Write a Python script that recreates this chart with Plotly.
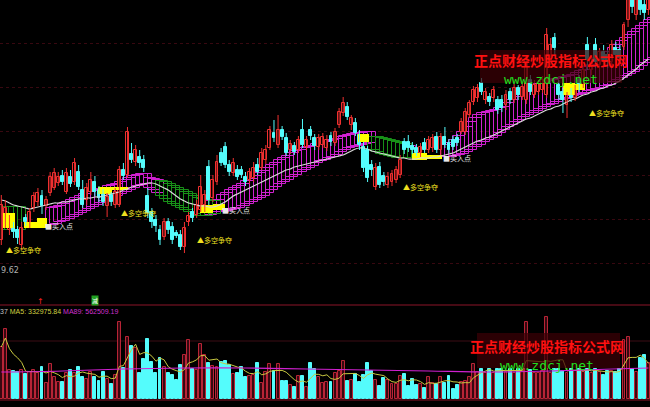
import plotly.graph_objects as go
import pandas as pd

# ---------------- data ----------------
opens = [9.85,10.03,9.95,9.99,9.95,9.80,10.07,10.00,10.17,10.23,
         10.29,10.19,10.32,10.37,10.42,10.49,10.33,10.48,10.43,10.53,
         10.35,10.25,10.33,10.43,10.35,10.32,10.19,10.30,10.20,10.20,
         10.55,10.50,10.71,10.63,10.68,10.65,10.29,10.13,10.05,9.95,
         9.88,10.03,9.98,9.92,9.90,9.78,10.03,10.13,10.10,10.15,
         10.20,10.58,10.27,10.43,10.72,10.78,10.60,10.52,10.55,10.55,
         10.48,10.45,10.47,10.60,10.57,10.65,10.77,10.92,10.80,10.95,
         10.87,10.75,10.79,10.75,10.95,10.78,10.95,10.87,10.78,10.80,
         10.77,10.89,10.82,11.00,11.12,11.18,11.00,11.02,10.90,10.78,
         10.75,10.60,10.38,10.58,10.49,10.40,10.43,10.45,10.50,10.83,
         10.83,10.79,10.77,10.72,10.82,10.75,10.77,10.88,10.75,10.88,
         10.82,10.85,10.87,10.93,10.93,11.10,11.23,11.27,11.42,11.25,
         11.28,11.27,11.25,11.25,11.20,11.33,11.25,11.37,11.28,11.25,
         11.45,11.30,11.33,11.35,11.30,11.65,11.87,11.40,11.33,11.20,
         11.33,11.27,11.45,11.40,11.80,11.55,11.80,11.60,11.73,11.70,
         11.63,11.77,11.75,11.78,12.05,12.30,12.10,12.30,12.20,12.15]
closes = [10.20,10.17,10.03,9.93,9.87,9.97,10.03,10.13,10.29,10.32,
          10.19,10.25,10.48,10.52,10.48,10.43,10.52,10.41,10.62,10.38,
          10.20,10.37,10.45,10.33,10.27,10.23,10.28,10.23,10.33,10.55,
          10.49,10.93,10.65,10.75,10.62,10.57,10.12,10.03,9.99,9.85,
          10.03,9.95,9.85,9.89,9.78,9.97,10.09,10.07,10.20,10.38,
          10.30,10.25,10.45,10.63,10.62,10.60,10.53,10.62,10.48,10.50,
          10.43,10.53,10.57,10.53,10.72,10.75,10.95,10.87,10.95,10.88,
          10.72,10.81,10.73,10.85,10.80,10.85,10.89,10.79,10.87,10.88,
          10.85,10.83,10.93,11.13,11.22,11.08,11.07,10.92,10.80,10.57,
          10.47,10.55,10.57,10.40,10.43,10.48,10.51,10.55,10.65,10.75,
          10.77,10.75,10.72,10.78,10.75,10.85,10.87,10.75,10.88,10.80,
          10.75,10.78,10.82,11.03,11.13,11.22,11.35,11.37,11.33,11.33,
          11.23,11.35,11.15,11.17,11.30,11.25,11.37,11.30,11.38,11.65,
          11.33,11.40,11.41,11.45,11.90,11.80,11.77,11.30,11.25,11.30,
          11.27,11.37,11.37,11.55,11.65,11.67,11.63,11.73,11.65,11.63,
          11.80,11.70,11.67,12.00,12.35,12.18,12.25,12.15,12.12,12.28]
highs = [10.30,10.25,10.10,10.03,9.99,10.03,10.11,10.17,10.33,10.37,
         10.35,10.29,10.53,10.57,10.53,10.55,10.57,10.55,10.67,10.60,
         10.45,10.42,10.53,10.49,10.39,10.36,10.32,10.33,10.37,10.59,
         10.62,10.98,10.82,10.80,10.75,10.70,10.37,10.17,10.10,10.00,
         10.07,10.07,10.03,9.95,9.95,10.03,10.13,10.17,10.25,10.50,
         10.35,10.65,10.50,10.70,10.77,10.83,10.65,10.67,10.60,10.59,
         10.53,10.57,10.63,10.67,10.77,10.80,10.99,11.05,11.10,10.99,
         10.92,10.85,10.83,10.89,11.06,10.89,10.99,10.91,10.91,10.92,
         10.90,10.93,10.97,11.17,11.28,11.23,11.10,11.07,10.95,10.83,
         10.79,10.65,10.62,10.63,10.53,10.53,10.55,10.59,10.70,10.87,
         10.90,10.83,10.81,10.82,10.87,10.89,10.91,10.93,10.92,10.98,
         10.86,10.89,10.91,11.07,11.17,11.25,11.39,11.41,11.47,11.37,
         11.32,11.39,11.29,11.30,11.35,11.37,11.41,11.40,11.42,11.70,
         11.50,11.45,11.45,11.49,11.97,11.87,11.92,11.45,11.37,11.33,
         11.37,11.40,11.50,11.60,11.88,11.70,11.87,11.77,11.80,11.75,
         11.85,11.83,11.80,12.03,12.45,12.40,12.35,12.40,12.30,12.35]
lows = [9.80,9.97,9.90,9.87,9.81,9.75,9.99,9.97,10.13,10.19,
        10.11,10.15,10.29,10.35,10.39,10.40,10.31,10.38,10.40,10.35,
        10.17,10.20,10.30,10.29,10.23,10.19,10.08,10.19,10.17,10.18,
        10.45,10.47,10.62,10.59,10.57,10.53,10.07,9.97,9.93,9.80,
        9.85,9.91,9.81,9.87,9.75,9.72,9.99,10.03,10.07,10.13,
        10.13,10.20,10.23,10.40,10.59,10.57,10.49,10.49,10.45,10.47,
        10.39,10.41,10.43,10.50,10.55,10.61,10.75,10.83,10.77,10.85,
        10.69,10.71,10.70,10.72,10.77,10.75,10.85,10.75,10.75,10.77,
        10.74,10.79,10.79,10.97,11.09,11.05,10.95,10.89,10.75,10.53,
        10.43,10.49,10.35,10.37,10.39,10.37,10.39,10.42,10.47,10.71,
        10.73,10.71,10.69,10.68,10.72,10.72,10.73,10.72,10.70,10.77,
        10.72,10.75,10.79,10.91,10.90,11.07,11.20,11.23,11.30,11.21,
        11.19,11.23,11.11,11.13,11.15,11.21,11.22,11.25,11.25,11.21,
        11.30,11.27,11.30,11.32,11.27,11.60,11.70,11.25,11.12,11.07,
        11.23,11.24,11.33,11.37,11.55,11.50,11.57,11.55,11.60,11.57,
        11.59,11.65,11.63,11.75,11.98,12.12,12.05,12.10,12.05,12.10]
volumes = [988000,1330000,551000,532000,513000,551000,475000,513000,551000,494000,
           608000,304000,665000,418000,323000,323000,494000,551000,494000,608000,
           418000,380000,513000,418000,342000,513000,380000,285000,456000,1463000,
           589000,1178000,1007000,969000,494000,760000,1140000,703000,494000,779000,
           608000,494000,456000,361000,646000,836000,1121000,570000,551000,1045000,
           836000,684000,627000,608000,703000,722000,646000,475000,494000,608000,
           418000,437000,456000,684000,304000,513000,665000,532000,665000,342000,
           342000,266000,228000,437000,437000,228000,684000,570000,418000,304000,
           323000,323000,494000,532000,722000,342000,361000,475000,323000,456000,
           684000,532000,361000,247000,399000,361000,285000,285000,437000,475000,
           247000,380000,266000,285000,209000,418000,304000,285000,418000,304000,
           437000,190000,266000,323000,342000,418000,665000,513000,570000,494000,
           570000,494000,570000,570000,513000,570000,494000,570000,551000,1463000,
           551000,494000,494000,532000,1558000,494000,570000,570000,532000,494000,
           570000,532000,570000,513000,570000,494000,570000,513000,456000,532000,
           532000,513000,570000,1121000,1178000,570000,513000,779000,836000,684000]
ma_slow = [10.25,10.24,10.22,10.20,10.19,10.18,10.17,10.16,10.17,10.18,
           10.19,10.20,10.21,10.22,10.22,10.23,10.23,10.24,10.25,10.26,
           10.26,10.27,10.27,10.28,10.28,10.29,10.30,10.31,10.32,10.33,
           10.35,10.36,10.38,10.39,10.40,10.41,10.42,10.42,10.41,10.39,
           10.37,10.35,10.32,10.29,10.26,10.24,10.22,10.21,10.20,10.19,
           10.19,10.18,10.18,10.19,10.21,10.23,10.26,10.29,10.31,10.33,
           10.35,10.37,10.39,10.41,10.43,10.45,10.47,10.49,10.51,10.53,
           10.55,10.56,10.58,10.59,10.60,10.61,10.62,10.63,10.64,10.65,
           10.66,10.67,10.68,10.69,10.70,10.72,10.74,10.76,10.77,10.77,
           10.76,10.74,10.73,10.72,10.71,10.70,10.69,10.68,10.67,10.67,
           10.66,10.66,10.66,10.67,10.67,10.67,10.68,10.68,10.69,10.70,
           10.71,10.72,10.74,10.76,10.78,10.80,10.82,10.84,10.85,10.87,
           10.88,10.90,10.92,10.94,10.96,10.98,11.00,11.02,11.04,11.06,
           11.07,11.09,11.11,11.13,11.15,11.16,11.18,11.19,11.21,11.23,
           11.25,11.26,11.28,11.30,11.31,11.33,11.34,11.36,11.37,11.39,
           11.40,11.42,11.44,11.47,11.50,11.53,11.56,11.60,11.63,11.66]
lad_top = [10.18,10.18,10.18,10.18,None,None,None,None,None,None,
           None,10.17,10.18,10.19,10.21,10.23,10.25,10.27,10.29,10.31,
           10.33,10.34,10.35,10.36,10.37,10.39,10.40,10.41,10.43,10.45,
           10.47,10.49,10.50,10.51,10.51,10.47,10.46,10.45,10.44,10.43,
           10.41,10.39,10.37,10.35,10.33,10.31,10.29,10.27,10.26,10.25,
           10.24,10.24,10.25,10.30,10.32,10.35,10.37,10.39,10.41,10.44,
           10.46,10.49,10.52,10.54,10.57,10.60,10.62,10.65,10.67,10.69,
           10.72,10.74,10.75,10.77,10.78,10.79,10.81,10.82,10.83,10.84,
           10.85,10.86,10.88,10.89,10.90,10.91,10.92,10.92,10.93,10.93,
           10.88,10.88,10.87,10.86,10.85,10.84,10.83,10.82,10.81,10.79,
           10.77,None,None,None,None,None,None,None,10.80,10.82,
           10.85,10.89,10.93,10.98,11.03,11.07,11.10,11.12,11.13,11.14,
           11.15,11.17,11.18,11.22,11.25,11.28,11.30,11.33,11.35,11.37,
           11.39,11.41,11.43,11.44,11.45,11.46,11.47,11.48,11.49,11.50,
           11.52,11.54,11.55,11.58,11.60,11.64,11.67,11.70,11.73,11.77,
           11.80,11.84,11.87,11.90,11.93,11.96,11.99,12.02,12.05,12.07]
lad_bot = [9.95,9.95,9.95,9.95,None,None,None,None,None,None,
           None,10.00,10.01,10.03,10.04,10.06,10.08,10.10,10.12,10.14,
           10.16,10.18,10.20,10.22,10.24,10.26,10.28,10.29,10.31,10.33,
           10.35,10.37,10.39,10.40,10.41,10.37,10.35,10.32,10.29,10.26,
           10.23,10.21,10.19,10.17,10.15,10.13,10.11,10.09,10.09,10.09,
           10.10,10.11,10.13,10.13,10.14,10.15,10.16,10.17,10.19,10.21,
           10.23,10.25,10.27,10.29,10.32,10.35,10.38,10.41,10.43,10.45,
           10.48,10.50,10.53,10.55,10.57,10.59,10.62,10.64,10.65,10.67,
           10.68,10.70,10.73,10.75,10.77,10.78,10.79,10.80,10.81,10.82,
           10.75,10.73,10.71,10.70,10.69,10.68,10.67,10.67,10.67,10.67,
           10.67,None,None,None,None,None,None,None,10.68,10.68,
           10.69,10.70,10.71,10.73,10.75,10.78,10.80,10.83,10.85,10.87,
           10.89,10.92,10.95,10.98,11.00,11.03,11.05,11.08,11.10,11.12,
           11.14,11.16,11.18,11.20,11.21,11.23,11.25,11.26,11.27,11.29,
           11.30,11.31,11.32,11.34,11.35,11.36,11.37,11.39,11.40,11.43,
           11.45,11.47,11.49,11.51,11.53,11.55,11.59,11.62,11.65,11.67]
ma89_idx = [0, 15, 30, 45, 60, 75, 90, 105, 120, 135, 150, 159]
ma89_val = [513000, 532000, 570000, 589000, 589000, 570000, 551000, 532000, 513000, 532000, 570000, 589000]

# yellow "contest" blocks: start bar, end bar, top price, bottom price
yb_start = [0.42, 5.58, 8.77, 23.76, 27.2, 48.8, 52.0, 87.6, 100.9, 104.6, 138.0, 141.0]
yb_end   = [3.37, 8.77, 11.23, 27.2, 31.13, 52.0, 55.0, 90.3, 104.6, 108.3, 141.0, 143.4]
yb_top   = [10.12, 10.03, 10.07, 10.38, 10.38, 10.20, 10.21, 10.91, 10.72, 10.70, 11.42, 11.41]
yb_bot   = [9.97, 9.97, 9.97, 10.31, 10.35, 10.12, 10.15, 10.83, 10.65, 10.66, 11.30, 11.35]

# signal labels
dk_idx = [0.91, 29.2, 47.8, 98.5, 144.2]
dk_price = [9.75, 10.12, 9.85, 10.38, 11.12]
buy_idx = [10.5, 54.0, 108.3]
buy_price = [9.99, 10.15, 10.67]
grid_prices = [9.62, 10.06, 10.50, 10.94, 11.38, 11.82]

# ---------------- styling ----------------
W, H = 650, 407
RED = '#f03030'
CYAN = '#54fcfc'
MAG = '#d020d0'
GRN = '#189018'
CJK = 'Noto Sans CJK SC'

N = len(closes)
idx = list(range(N))
up = [c >= o for o, c in zip(opens, closes)]

fig = go.Figure()

# ladder boxes
for col, want in ((MAG, True), (GRN, False)):
    xs, bases, hs = [], [], []
    for i in idx:
        if lad_top[i] is None:
            continue
        rising = ma_slow[i] >= ma_slow[i - 1] if i > 0 else ma_slow[1] >= ma_slow[0]
        if rising != want:
            continue
        xs.append(i + 1.5)
        bases.append(lad_bot[i])
        hs.append(lad_top[i] - lad_bot[i])
    fig.add_trace(go.Bar(x=xs, y=hs, base=bases, width=3, yaxis='y',
                         marker=dict(color='rgba(0,0,0,0)', line=dict(color=col, width=1)),
                         hoverinfo='skip'))

# slow MA (white)
fig.add_trace(go.Scatter(x=idx, y=ma_slow, mode='lines', line=dict(color='#d8d8d8', width=1.2, shape='spline'),
                         yaxis='y', hoverinfo='skip'))

# wicks
for col, want in ((RED, True), (CYAN, False)):
    wx, wy = [], []
    for i in idx:
        if up[i] == want:
            wx += [i, i, None]
            wy += [highs[i], lows[i], None]
    fig.add_trace(go.Scatter(x=wx, y=wy, mode='lines', line=dict(color=col, width=1), yaxis='y', hoverinfo='skip'))

# bodies
for col, fill, want in ((RED, 'black', True), (CYAN, CYAN, False)):
    bx, bb, bh = [], [], []
    for i in idx:
        if up[i] == want:
            bx.append(i)
            bb.append(min(opens[i], closes[i]))
            bh.append(max(abs(closes[i] - opens[i]), 0.01))
    fig.add_trace(go.Bar(x=bx, y=bh, base=bb, width=0.72, yaxis='y',
                         marker=dict(color=fill, line=dict(color=col, width=1)), hoverinfo='skip'))

# yellow blocks
fig.add_trace(go.Bar(x=[(a + b) / 2 for a, b in zip(yb_start, yb_end)],
                     width=[b - a for a, b in zip(yb_start, yb_end)],
                     y=[t - b for t, b in zip(yb_top, yb_bot)], base=yb_bot, yaxis='y',
                     marker=dict(color='#ffff00', line=dict(width=0)), hoverinfo='skip'))

# volume bars
for col, fill, want in (('#b82436', '#360810', True), (CYAN, CYAN, False)):
    vx = [i for i in idx if up[i] == want]
    vy = [volumes[i] for i in vx]
    fig.add_trace(go.Bar(x=vx, y=vy, width=0.72, yaxis='y2',
                         marker=dict(color=fill, line=dict(color=col, width=1)),
                         hoverinfo='skip'))

ma5 = pd.Series(volumes).rolling(5, min_periods=1).mean().tolist()
fig.add_trace(go.Scatter(x=idx, y=ma5, mode='lines', line=dict(color='#c8c840', width=1), yaxis='y2', hoverinfo='skip'))
fig.add_trace(go.Scatter(x=ma89_idx, y=ma89_val, mode='lines', line=dict(color='#d020d0', width=1.2, shape='spline'),
                         yaxis='y2', hoverinfo='skip'))

# ---------------- annotations ----------------
ann = []
for x, y in zip(dk_idx, dk_price):
    ann.append(dict(x=x, y=y, xref='x', yref='y', text='▲多空争夺', showarrow=False, xanchor='left', yanchor='middle',
                    font=dict(family=CJK, size=7, color='#f0e020'), borderpad=0))
for x, y in zip(buy_idx, buy_price):
    ann.append(dict(x=x, y=y, xref='x', yref='y', text='■买入点', showarrow=False, xanchor='left', yanchor='middle',
                    font=dict(family=CJK, size=7, color='#e8e8e8'), borderpad=0))


def px(x):
    return x / W


def py(y):
    return 1 - y / H


ann.append(dict(x=px(0), y=py(270), xref='paper', yref='paper', text='9.62', showarrow=False, xanchor='left',
                yanchor='middle', font=dict(family='DejaVu Sans', size=8, color='#b0b0b0'), borderpad=0))
ann.append(dict(x=px(-1), y=py(311), xref='paper', yref='paper',
                text="37 <span style='color:#d0d040'>MA5: 332975.84</span> "
                     "<span style='color:#d030d0'>MA89: 562509.19</span>",
                showarrow=False, xanchor='left', yanchor='middle', borderpad=0,
                font=dict(family='Liberation Sans', size=7, color='#c0c0c0')))
# tiny signal marks above the volume panel
ann.append(dict(x=px(40.5), y=py(301), xref='paper', yref='paper', text='↑', showarrow=False,
                xanchor='center', yanchor='middle', font=dict(family='DejaVu Sans', size=8, color='#ff2020'),
                borderpad=0))
ann.append(dict(x=px(95), y=py(300.5), xref='paper', yref='paper', text='减', showarrow=False,
                xanchor='center', yanchor='middle', bgcolor='#20a020',
                font=dict(family=CJK, size=6, color='#ffffff'), borderpad=0))

# watermarks (red title + green url in one block)
for (cx, cy) in ((551, 68), (547, 354)):
    ann.append(dict(x=px(cx), y=py(cy), xref='paper', yref='paper',
                    text="<b><span style='color:#ff1010'>正点财经炒股指标公式网</span></b><br>"
                         "<span style='color:#20e020;font-family:DejaVu Sans Mono;font-size:13px'>www.zdcj.net</span>",
                    showarrow=False, xanchor='center', yanchor='middle', borderpad=0,
                    font=dict(family=CJK, size=14, color='#ff1010')))

shapes = []
for (x0, y0, x1, y1) in ((480, 50, 622, 83), (477, 333, 620, 368)):
    shapes.append(dict(type='rect', xref='paper', yref='paper', x0=px(x0), x1=px(x1), y0=py(y1), y1=py(y0),
                       fillcolor='rgba(60,0,6,0.72)', line=dict(width=0), layer='above'))
for yy, colr in ((305, '#8c1428'), (341, '#3c0c14'), (400, '#8c1428')):
    shapes.append(dict(type='line', xref='paper', yref='paper', x0=0, x1=1, y0=py(yy), y1=py(yy),
                       line=dict(color=colr, width=1), layer='below'))

fig.update_layout(
    width=W, height=H, margin=dict(l=0, r=0, t=0, b=0),
    paper_bgcolor='black', plot_bgcolor='black', showlegend=False,
    barmode='overlay', bargap=0,
    xaxis=dict(range=[-0.32, 159.39], visible=False, fixedrange=True),
    yaxis=dict(range=[12.25 - H / 100, 12.25], tickvals=grid_prices, showgrid=True, gridcolor='#380810',
               griddash='dot', gridwidth=1, showticklabels=False, zeroline=False, ticks=''),
    yaxis2=dict(range=[-8 * 19000, 399 * 19000], overlaying='y', visible=False, showgrid=False),
    annotations=ann, shapes=shapes,
)

fig.write_html('out.html', config={'displayModeBar': False},
               post_script="document.body.style.margin='0';document.body.style.background='black';")
